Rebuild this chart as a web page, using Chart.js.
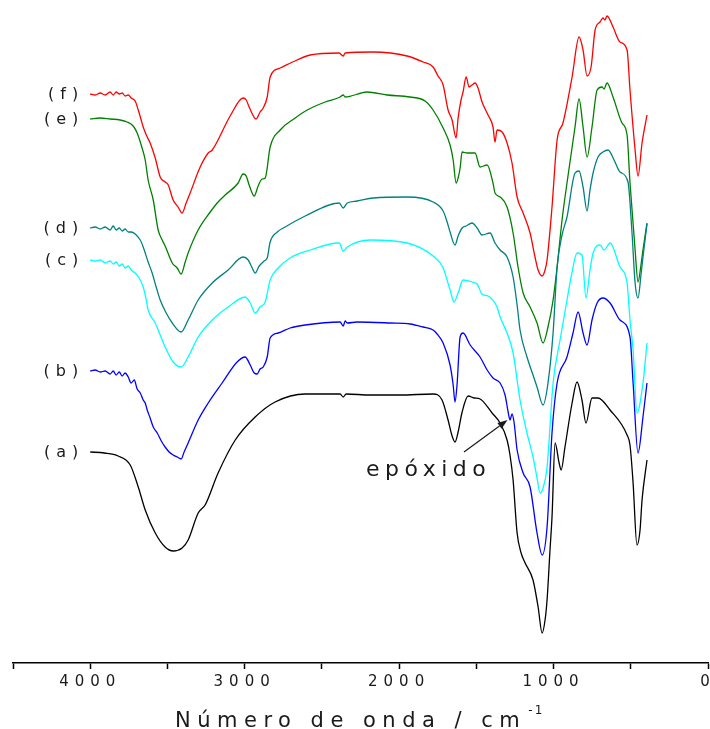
<!DOCTYPE html>
<html>
<head>
<meta charset="utf-8">
<title>Espectros FTIR</title>
<script src="https://cdn.jsdelivr.net/npm/chart.js@4"></script>
<style>
  html, body { margin: 0; padding: 0; background: #ffffff; }
  #wrap { width: 710px; height: 729px; position: relative; }
</style>
</head>
<body>
<div id="wrap"><canvas id="ftir"></canvas></div>
<script>
// FTIR spectra (a)-(f), stacked with vertical offsets; wavenumber in cm-1, transmittance in arbitrary units
const seriesLabels = ['(a)', '(b)', '(c)', '(d)', '(e)', '(f)'];
const seriesColors = ['#000000', '#0000ff', '#00ffff', '#008080', '#008000', '#ff0000'];

const waveA = [4000,3909,3819,3741,3689,3644,3579,3515,3463,3405,3366,3301,3256,3172,3061,2932,2803,2608,2382,2362,2343,2188,1994,1780,1722,1683,1657,1638,1618,1592,1553,1515,1476,1398,1346,1301,1282,1262,1236,1210,1184,1133,1100,1074,1055,1042,1023,1010,990,964,951,926,880,848,816,790,751,712,634,524,505,485,460,440,427,395];
const transA = [211,210,207,198,176,153,130,116,112,115,123,150,158,190,223,246,261,269,269,266,269,268,268,269,263,243,227,221,231,251,267,265,264,250,240,223,208,183,130,110,100,83,56,30,43,63,113,146,220,200,193,216,260,281,263,240,265,265,253,228,218,180,118,133,163,203];

const waveB = [4000,3968,3935,3903,3871,3851,3832,3812,3793,3774,3754,3735,3715,3696,3676,3657,3644,3631,3612,3592,3566,3540,3515,3489,3463,3437,3411,3392,3366,3301,3236,3146,3049,2997,2964,2938,2919,2900,2880,2854,2835,2783,2706,2608,2382,2362,2349,2336,2272,2058,1929,1845,1780,1754,1715,1670,1650,1638,1625,1605,1586,1540,1476,1430,1392,1346,1314,1294,1282,1269,1256,1236,1197,1152,1107,1074,1042,1010,977,913,874,841,809,783,751,718,680,634,570,505,485,453,421,395];
const transB = [292,293,291,292,289,292,288,291,287,290,286,280,283,274,270,263,260,253,245,236,230,222,216,211,208,206,204,211,220,243,260,280,301,306,298,290,289,294,296,306,325,330,335,338,341,337,342,340,341,340,339,336,333,329,320,298,278,261,278,326,330,318,306,293,285,280,268,251,243,249,241,213,190,176,130,108,136,230,280,306,330,351,330,318,343,360,365,360,343,326,280,210,246,280];

const waveC = [4000,3968,3935,3903,3871,3851,3832,3812,3793,3774,3754,3735,3709,3683,3657,3637,3625,3579,3547,3515,3463,3411,3366,3301,3210,3107,2997,2964,2932,2900,2867,2835,2783,2706,2576,2388,2362,2336,2188,1948,1780,1715,1670,1644,1618,1586,1528,1495,1463,1424,1366,1346,1301,1262,1217,1172,1133,1107,1087,1068,1042,1003,958,913,880,848,816,790,764,744,699,673,634,570,524,505,485,460,421,395];
const transC = [403,402,403,400,402,399,401,397,399,395,397,393,390,385,376,363,353,340,328,316,301,296,306,326,343,356,366,360,350,356,361,383,395,405,413,420,412,416,423,420,407,395,373,361,370,383,381,379,369,367,356,346,330,310,263,230,206,185,170,175,196,280,323,363,391,410,408,365,393,410,418,413,420,396,380,343,313,250,280,320];

const waveD = [4000,3968,3935,3903,3871,3851,3832,3812,3793,3774,3754,3735,3709,3676,3657,3625,3599,3573,3547,3508,3469,3411,3366,3301,3210,3107,3010,2977,2951,2932,2906,2874,2854,2835,2789,2738,2608,2388,2362,2336,2272,2168,1948,1780,1715,1689,1670,1638,1618,1592,1566,1528,1495,1463,1411,1379,1346,1301,1262,1236,1217,1172,1133,1107,1068,1036,1003,977,945,913,861,835,809,783,764,744,712,680,647,608,570,518,492,472,453,434,421,395];
const transD = [435,436,434,436,433,437,433,435,432,434,431,431,429,423,416,401,390,376,363,350,340,331,343,363,380,393,406,403,395,390,397,402,405,421,431,436,447,460,455,460,462,465,466,461,452,441,431,418,427,435,437,440,435,428,430,420,413,406,386,358,333,306,288,276,258,280,330,396,428,446,490,492,476,452,473,490,506,511,513,503,491,481,430,380,365,388,406,439];

const waveE = [4000,3935,3871,3806,3761,3722,3696,3670,3644,3625,3592,3560,3534,3515,3469,3437,3411,3385,3366,3301,3223,3178,3126,3042,3010,2990,2971,2938,2913,2887,2867,2835,2770,2673,2595,2479,2382,2362,2349,2207,2078,1929,1832,1780,1715,1670,1650,1631,1618,1605,1592,1560,1508,1476,1430,1392,1379,1346,1301,1262,1230,1197,1152,1107,1068,1036,1003,977,945,913,861,835,809,783,751,718,686,673,654,615,557,524,505,472,453,434,421,395];
const transE = [544,545,544,543,541,537,530,518,503,483,463,433,423,417,400,395,389,401,410,433,451,460,468,480,489,487,478,467,477,484,485,516,533,545,553,561,566,568,566,571,568,566,562,553,535,518,503,480,485,495,511,510,510,496,498,480,470,466,456,430,396,370,356,340,320,336,363,396,443,480,536,564,536,506,536,573,576,574,580,566,540,528,480,413,381,398,413,440];

const waveF = [4000,3968,3935,3903,3871,3851,3832,3812,3793,3774,3754,3735,3709,3689,3670,3657,3637,3612,3579,3547,3515,3495,3463,3431,3405,3379,3353,3288,3236,3210,3094,3010,2990,2971,2926,2900,2880,2854,2835,2770,2660,2576,2388,2362,2349,2168,1948,1845,1780,1748,1715,1683,1657,1631,1618,1599,1586,1566,1547,1528,1508,1489,1463,1424,1392,1379,1366,1333,1301,1269,1236,1197,1152,1120,1100,1074,1055,1042,1010,977,939,880,835,809,783,757,731,699,680,667,654,615,570,524,505,472,453,427,395];
const transF = [569,568,570,568,571,568,571,569,570,567,568,565,562,553,543,536,528,520,505,486,481,478,463,456,450,460,470,496,510,513,547,565,563,556,544,551,555,566,586,595,603,608,610,607,610,611,607,601,596,587,578,553,543,525,545,563,571,586,576,578,580,575,561,548,536,521,533,531,520,500,466,450,430,406,393,387,393,403,456,523,540,586,626,613,587,596,633,641,645,643,647,636,621,613,573,513,487,520,548];

// x-axis ticks every 500 cm-1, labelled every 1000 cm-1
const tickStep = 500;
const tickLabelStep = 1000;
const axisTitle = 'Número de onda / cm';
const axisTitleExp = '-1';

// epoxide band callout (wavenumber, transmittance)
const epoxText = 'epóxido';
const epoxTextAt = { x: 2215, y: 187 };
const epoxArrowFrom = { x: 1580, y: 211 };
const epoxArrowTo = { x: 1298, y: 243 };

const waves = [waveA, waveB, waveC, waveD, waveE, waveF];
const trans = [transA, transB, transC, transD, transE, transF];

const datasets = seriesLabels.map((label, i) => ({
  label,
  data: waves[i].map((w, k) => ({ x: w, y: trans[i][k] })),
  borderColor: seriesColors[i],
  backgroundColor: seriesColors[i],
  borderWidth: 1.3,
  pointRadius: 0,
  fill: false,
  cubicInterpolationMode: 'monotone'
}));

const FONT = '"DejaVu Sans", Verdana, sans-serif';

const decorPlugin = {
  id: 'decor',
  beforeDraw(chart) {
    // spaced digits on the wavenumber axis
    chart.ctx.letterSpacing = '6px';
  },
  afterDraw(chart) {
    const { ctx, scales } = chart;
    const xs = scales.x, ys = scales.y;
    ctx.save();
    ctx.fillStyle = '#1a1a1a';
    ctx.strokeStyle = '#1a1a1a';

    // spectrum tags at the start of each trace
    ctx.font = '16px ' + FONT;
    ctx.letterSpacing = '6px';
    ctx.textAlign = 'right';
    ctx.textBaseline = 'middle';
    chart.data.datasets.forEach(ds => {
      const p = ds.data[0];
      ctx.fillText(ds.label, xs.getPixelForValue(p.x) - 6, ys.getPixelForValue(p.y) + 1);
    });

    // epoxide callout with arrow
    ctx.font = '22px ' + FONT;
    ctx.letterSpacing = '5.5px';
    ctx.textAlign = 'left';
    ctx.textBaseline = 'alphabetic';
    ctx.fillText(epoxText, xs.getPixelForValue(epoxTextAt.x), ys.getPixelForValue(epoxTextAt.y));

    const x0 = xs.getPixelForValue(epoxArrowFrom.x), y0 = ys.getPixelForValue(epoxArrowFrom.y);
    const x1 = xs.getPixelForValue(epoxArrowTo.x), y1 = ys.getPixelForValue(epoxArrowTo.y);
    const ang = Math.atan2(y1 - y0, x1 - x0);
    const headLen = 10, headW = 3.5;
    const bx = x1 - headLen * Math.cos(ang), by = y1 - headLen * Math.sin(ang);
    ctx.lineWidth = 1.2;
    ctx.beginPath();
    ctx.moveTo(x0, y0);
    ctx.lineTo(bx, by);
    ctx.stroke();
    ctx.beginPath();
    ctx.moveTo(x1, y1);
    ctx.lineTo(bx + headW * Math.sin(ang), by - headW * Math.cos(ang));
    ctx.lineTo(bx - headW * Math.sin(ang), by + headW * Math.cos(ang));
    ctx.closePath();
    ctx.fill();

    // axis title with superscript exponent
    ctx.font = '21px ' + FONT;
    ctx.letterSpacing = '6.5px';
    const tx = 175, ty = 727;
    ctx.fillText(axisTitle, tx, ty);
    const tw = ctx.measureText(axisTitle).width;
    ctx.font = '12px ' + FONT;
    ctx.letterSpacing = '2px';
    ctx.fillText(axisTitleExp, tx + tw + 2, ty - 13);

    ctx.restore();
  }
};

new Chart(document.getElementById('ftir'), {
  type: 'line',
  data: { datasets },
  plugins: [decorPlugin],
  options: {
    responsive: true,
    maintainAspectRatio: false,
    animation: false,
    parsing: true,
    layout: { padding: { left: 13, right: 2, top: 0, bottom: 0 } },
    plugins: { legend: { display: false }, tooltip: { enabled: false } },
    scales: {
      x: {
        type: 'linear',
        reverse: true,
        min: 0,
        max: 4500,
        border: { display: true, color: '#000000', width: 1.5 },
        grid: { display: true, drawOnChartArea: false, drawTicks: true, tickLength: 6, tickColor: '#000000', tickWidth: 1.5 },
        ticks: {
          stepSize: tickStep,
          autoSkip: false,
          maxRotation: 0,
          padding: 4,
          color: '#1a1a1a',
          font: { family: FONT, size: 15 },
          callback: v => (v % tickLabelStep === 0 ? String(v) : '')
        },
        afterFit(scale) {
          scale.height = 66;
          scale.paddingLeft = 0;
          scale.paddingRight = 0;
        }
      },
      y: {
        display: false,
        min: 0,
        max: 663
      }
    }
  }
});
</script>
</body>
</html>
